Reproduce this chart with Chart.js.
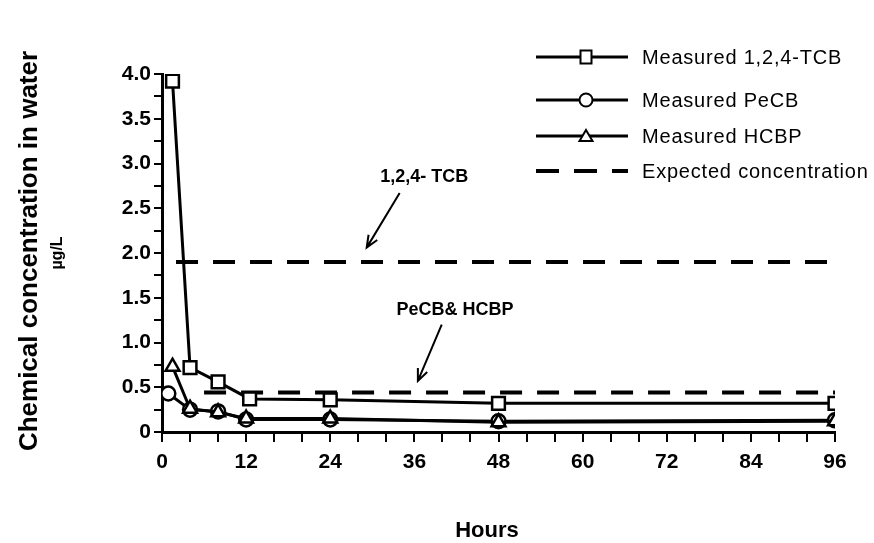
<!DOCTYPE html>
<html>
<head>
<meta charset="utf-8">
<script src="https://cdn.jsdelivr.net/npm/chart.js@4.4.0/dist/chart.umd.min.js"></script>
<style>
  html, body { margin: 0; padding: 0; background: #fff; }
  #wrap { width: 874px; height: 543px; }
</style>
</head>
<body>
<div id="wrap"><canvas id="chart" width="874" height="543"></canvas></div>
<script>
// Measured concentrations (µg/L) vs hours
const tcbHours = [1.5, 4, 8, 12.5, 24, 48, 96];
const tcbConc = [3.92, 0.72, 0.56, 0.37, 0.36, 0.32, 0.32];
const pecbHours = [0.9, 4, 8, 12, 24, 48, 96];
const pecbConc = [0.43, 0.25, 0.23, 0.14, 0.14, 0.12, 0.13];
const hcbpHours = [1.5, 4, 8, 12, 24, 48, 96];
const hcbpConc = [0.73, 0.26, 0.22, 0.15, 0.15, 0.11, 0.12];

// Expected concentrations
const expTcbHours = [2, 96];
const expTcbConc = [1.9, 1.9];
const expLowHours = [6, 96];
const expLowConc = [0.44, 0.44];

const xTickLabels = [0, 12, 24, 36, 48, 60, 72, 84, 96];
const yTickLabels = [0, 0.5, 1, 1.5, 2, 2.5, 3, 3.5, 4];

const legendLabels = ['Measured 1,2,4-TCB', 'Measured PeCB', 'Measured HCBP', 'Expected concentration'];

const notes = [
    { text: '1,2,4- TCB', x: 37.4, y: 2.85, fromX: 33.9, fromY: 2.67, toX: 29.2, toY: 2.06 },
    { text: 'PeCB& HCBP', x: 41.8, y: 1.36, fromX: 39.9, fromY: 1.2, toX: 36.5, toY: 0.57 },
];

const FONT = '"Liberation Sans", Arial, Helvetica, sans-serif';
const pts = (xs, ys) => xs.map((x, i) => ({ x, y: ys[i] }));

const measured = (data, style, r) => ({
    data,
    borderColor: '#000',
    backgroundColor: '#fff',
    borderWidth: 3,
    pointStyle: style,
    pointRadius: r,
    pointBorderWidth: 2.5,
    pointBackgroundColor: '#fff',
    pointBorderColor: '#000',
    tension: 0,
});

const expected = data => ({
    data,
    borderColor: '#000',
    borderWidth: 4,
    borderDash: [22, 15],
    pointRadius: 0,
    fill: false,
});

function drawMarker(ctx, style, x, y) {
    ctx.save();
    ctx.fillStyle = '#fff';
    ctx.strokeStyle = '#000';
    ctx.lineWidth = 2;
    ctx.beginPath();
    if (style === 'rect') ctx.rect(x - 5.5, y - 6.5, 11, 13);
    else if (style === 'circle') ctx.arc(x, y, 6.5, 0, Math.PI * 2);
    else if (style === 'triangle') { ctx.moveTo(x, y - 6); ctx.lineTo(x + 6.5, y + 5); ctx.lineTo(x - 6.5, y + 5); ctx.closePath(); }
    ctx.fill();
    ctx.stroke();
    ctx.restore();
}

const decor = {
    id: 'decor',
    afterDraw(chart) {
        const { ctx, chartArea, scales } = chart;
        const xs = scales.x, ys = scales.y;

        // legend
        const rows = [
            { style: 'rect', y: 57 },
            { style: 'circle', y: 100 },
            { style: 'triangle', y: 136 },
            { style: null, y: 171 },
        ];
        ctx.save();
        ctx.strokeStyle = '#000';
        ctx.fillStyle = '#000';
        rows.forEach((r, i) => {
            ctx.beginPath();
            ctx.lineWidth = r.style ? 3 : 4;
            ctx.setLineDash(r.style ? [] : [23, 15]);
            ctx.moveTo(536, r.y);
            ctx.lineTo(628, r.y);
            ctx.stroke();
            ctx.setLineDash([]);
            if (r.style) drawMarker(ctx, r.style, 586, r.y);
            ctx.font = '20px ' + FONT;
            ctx.letterSpacing = '0.8px';
            ctx.textAlign = 'left';
            ctx.textBaseline = 'middle';
            ctx.fillText(legendLabels[i], 642, r.y + 1);
        });
        ctx.letterSpacing = '0px';

        // notes with arrows
        ctx.font = 'bold 18px ' + FONT;
        ctx.textAlign = 'center';
        notes.forEach(n => {
            ctx.fillText(n.text, xs.getPixelForValue(n.x), ys.getPixelForValue(n.y));
            const x0 = xs.getPixelForValue(n.fromX), y0 = ys.getPixelForValue(n.fromY);
            const x1 = xs.getPixelForValue(n.toX), y1 = ys.getPixelForValue(n.toY);
            const a = Math.atan2(y1 - y0, x1 - x0);
            ctx.lineWidth = 2;
            ctx.beginPath();
            ctx.moveTo(x0, y0);
            ctx.lineTo(x1, y1);
            ctx.moveTo(x1 - 13 * Math.cos(a - 0.4), y1 - 13 * Math.sin(a - 0.4));
            ctx.lineTo(x1, y1);
            ctx.lineTo(x1 - 13 * Math.cos(a + 0.4), y1 - 13 * Math.sin(a + 0.4));
            ctx.stroke();
        });

        // axis titles
        const midY = (chartArea.top + chartArea.bottom) / 2;
        ctx.save();
        ctx.translate(30, midY - 2);
        ctx.rotate(-Math.PI / 2);
        ctx.font = 'bold 26px ' + FONT;
        ctx.fillText('Chemical concentration in water', 0, 0);
        ctx.restore();
        ctx.save();
        ctx.translate(58, midY);
        ctx.rotate(-Math.PI / 2);
        ctx.font = 'bold 16px ' + FONT;
        ctx.fillText('µg/L', 0, 0);
        ctx.restore();

        ctx.font = 'bold 22px ' + FONT;
        ctx.fillText('Hours', 487, 531);
        ctx.restore();
    },
};

new Chart(document.getElementById('chart'), {
    type: 'line',
    data: {
        datasets: [
            measured(pts(tcbHours, tcbConc), 'rect', 9),
            measured(pts(hcbpHours, hcbpConc), 'triangle', 8),
            measured(pts(pecbHours, pecbConc), 'circle', 7),
            expected(pts(expTcbHours, expTcbConc)),
            expected(pts(expLowHours, expLowConc)),
        ],
    },
    options: {
        responsive: false,
        animation: false,
        layout: { padding: { top: 74, right: 39, left: 0, bottom: 0 } },
        plugins: { legend: { display: false }, tooltip: { enabled: false } },
        scales: {
            x: {
                type: 'linear',
                min: 0,
                max: 96,
                afterFit: s => { s.height = 111; },
                border: { display: true, color: '#000', width: 3 },
                grid: { drawOnChartArea: false, drawTicks: true, tickLength: 10, color: '#000', lineWidth: 2 },
                ticks: {
                    stepSize: 4,
                    autoSkip: false,
                    maxRotation: 0,
                    padding: 8,
                    color: '#000',
                    font: { family: FONT, size: 21, weight: 'bold' },
                    callback: v => xTickLabels.includes(v) ? String(v) : '',
                },
            },
            y: {
                min: 0,
                max: 4,
                afterFit: s => { s.width = 162; },
                border: { display: true, color: '#000', width: 3 },
                grid: { drawOnChartArea: false, drawTicks: true, tickLength: 8, color: '#000', lineWidth: 2 },
                ticks: {
                    stepSize: 0.25,
                    autoSkip: false,
                    padding: 3,
                    color: '#000',
                    font: { family: FONT, size: 21, weight: 'bold' },
                    callback: v => yTickLabels.includes(v) ? (v === 0 ? '0' : v.toFixed(1)) : '',
                },
            },
        },
    },
    plugins: [decor],
});
</script>
</body>
</html>
